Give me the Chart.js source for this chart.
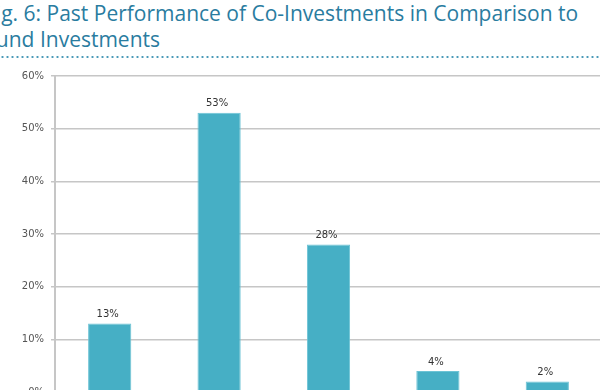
<!DOCTYPE html>
<html>
<head>
<meta charset="utf-8">
<script src="https://cdn.jsdelivr.net/npm/chart.js@4"></script>
<style>
  html, body { margin: 0; padding: 0; background: #fff; overflow: hidden; }
  body { width: 600px; height: 390px; position: relative; }
  #title {
    position: absolute; left: -15px; top: 0px; width: 660px;
    font-family: "Open Sans", sans-serif; font-size: 21px; line-height: 26px;
    color: #2a7c9f; white-space: nowrap;
  }
  #dots {
    position: absolute; left: 0; top: 55px; width: 600px; height: 4px;
    background-image: radial-gradient(circle, #4a9ab8 0.9px, transparent 1.3px);
    background-size: 5px 4px;
  }
  #wrap { position: absolute; left: 0; top: 0; width: 620px; height: 430px; }
</style>
</head>
<body>
<div id="title">Fig. 6: Past Performance of Co-Investments in Comparison to<br>Fund Investments</div>
<div id="dots"></div>
<div id="wrap"><canvas id="myChart"></canvas></div>
<script>
// categories are cut off below the visible area
const categories = ['Much better', 'Better', 'Same', 'Worse', 'Much worse'];
const shares = [13, 53, 28, 4, 2];
const yTicks = [0, 10, 20, 30, 40, 50, 60];

const barLabels = {
    id: 'barLabels',
    afterDatasetsDraw(chart) {
        const ctx = chart.ctx;
        const meta = chart.getDatasetMeta(0);
        ctx.save();
        ctx.font = '10px "DejaVu Sans", sans-serif';
        ctx.fillStyle = '#333';
        ctx.textAlign = 'center';
        ctx.textBaseline = 'bottom';
        meta.data.forEach((bar, i) => {
            ctx.fillText(shares[i] + '%', bar.x - 2, bar.y - 4);
        });
        ctx.restore();
    }
};

const chartEl = document.getElementById('myChart');
const myChart = new Chart(chartEl, {
    type: 'bar',
    data: {
        labels: categories,
        datasets: [{
            data: shares,
            backgroundColor: '#46afc5',
            borderColor: '#6cc3d5',
            borderWidth: 1,
            categoryPercentage: 1,
            barPercentage: 0.395
        }]
    },
    options: {
        responsive: true,
        maintainAspectRatio: false,
        animation: false,
        layout: {
            padding: { top: 76, right: 18, bottom: 30, left: 0 }
        },
        scales: {
            x: {
                ticks: { display: false },
                grid: { display: false },
                border: { display: false }
            },
            y: {
                min: 0,
                max: 60,
                afterFit(scale) { scale.width = 55; },
                afterBuildTicks(scale) { scale.ticks = yTicks.map(v => ({ value: v })); },
                ticks: {
                    color: '#555',
                    padding: 7,
                    font: { family: '"DejaVu Sans", sans-serif', size: 10 },
                    callback: v => v + '%'
                },
                grid: {
                    color: '#c6c6c6',
                    lineWidth: 1.5,
                    tickLength: 4
                },
                border: { color: '#c6c6c6', width: 2 }
            }
        },
        plugins: {
            legend: { display: false },
            tooltip: { enabled: false }
        }
    },
    plugins: [barLabels]
});
</script>
</body>
</html>
